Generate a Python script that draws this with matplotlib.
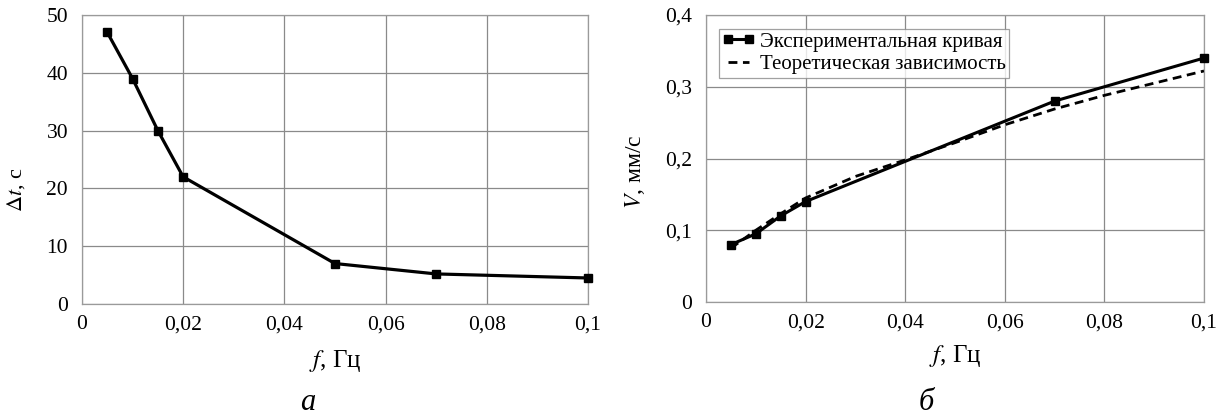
import matplotlib
matplotlib.use("Agg")
import matplotlib.pyplot as plt

plt.rcParams['font.family'] = ['Liberation Serif', 'DejaVu Serif']
plt.rcParams['mathtext.fontset'] = 'stix'

# Panel a
f_a = [0.005, 0.01, 0.015, 0.02, 0.05, 0.07, 0.1]
dt_a = [47, 39, 30, 22, 7, 5.2, 4.5]
xticks_a = [0, 0.02, 0.04, 0.06, 0.08, 0.1]
xticklabels = ['0', '0,02', '0,04', '0,06', '0,08', '0,1']
yticks_a = [0, 10, 20, 30, 40, 50]
yticklabels_a = ['0', '10', '20', '30', '40', '50']

# Panel b
f_exp = [0.005, 0.01, 0.015, 0.02, 0.07, 0.1]
v_exp = [0.08, 0.095, 0.12, 0.14, 0.28, 0.34]
f_th = [0.005, 0.01, 0.015, 0.02, 0.03, 0.04, 0.05, 0.06, 0.07, 0.08, 0.09, 0.1]
v_th = [0.075, 0.1, 0.123, 0.145, 0.175, 0.198, 0.222, 0.247, 0.269, 0.288, 0.305, 0.322]
yticks_b = [0, 0.1, 0.2, 0.3, 0.4]
yticklabels_b = ['0', '0,1', '0,2', '0,3', '0,4']

fig = plt.figure(figsize=(12.16, 4.19), dpi=100)
ax1 = fig.add_axes([0.0674, 0.2745, 0.4161, 0.6897])
ax2 = fig.add_axes([0.5806, 0.2792, 0.4095, 0.685])

grid_c = '#8a8a8a'
for ax in (ax1, ax2):
    ax.grid(True, color=grid_c, linewidth=0.9)
    ax.set_axisbelow(True)
    for s in ax.spines.values():
        s.set_color('#9a9a9a')
        s.set_linewidth(0.9)
    ax.tick_params(length=0, labelsize=15.5)
    ax.tick_params(axis='x', pad=8)
    ax.tick_params(axis='y', pad=10)
    ax.set_xlim(0, 0.1)
    ax.set_xticks(xticks_a)
    ax.set_xticklabels(xticklabels)

ax1.plot(f_a, dt_a, color='black', lw=2.3, marker='s', ms=6, clip_on=False, zorder=3)
ax1.set_ylim(0, 50)
ax1.set_yticks(yticks_a)
ax1.set_yticklabels(yticklabels_a)
ax1.set_xlabel(r'$f$, Гц', fontsize=18, labelpad=10)
ax1.set_ylabel(r'$\Delta t$, с', fontsize=16)
ax1.yaxis.set_label_coords(-0.108, 0.394)

ax2.plot(f_exp, v_exp, color='black', lw=2.2, marker='s', ms=6, clip_on=False, zorder=3,
         label='Экспериментальная кривая')
ax2.plot(f_th, v_th, color='black', lw=2.0, ls=(0, (3.2, 2.0)), zorder=3,
         label='Теоретическая зависимость')
ax2.set_ylim(0, 0.4)
ax2.set_yticks(yticks_b)
ax2.set_yticklabels(yticklabels_b)
ax2.set_xlabel(r'$f$, Гц', fontsize=18, labelpad=8)
ax2.set_ylabel(r'$V$, мм/с', fontsize=17)
ax2.yaxis.set_label_coords(-0.118, 0.453)
leg = ax2.legend(loc='upper left', bbox_to_anchor=(0.026, 0.951), fontsize=15,
                 frameon=True, fancybox=False, edgecolor=grid_c, handlelength=1.6,
                 numpoints=2, markerscale=0.9,
                 handletextpad=0.2, borderpad=0.15, labelspacing=0.15, borderaxespad=0)
leg.get_frame().set_linewidth(0.9)

fig.text(0.253, 0.022, 'а', fontsize=22, style='italic', ha='center')
fig.text(0.762, 0.022, 'б', fontsize=22, style='italic', ha='center')

fig.savefig('out.png', dpi=100)
